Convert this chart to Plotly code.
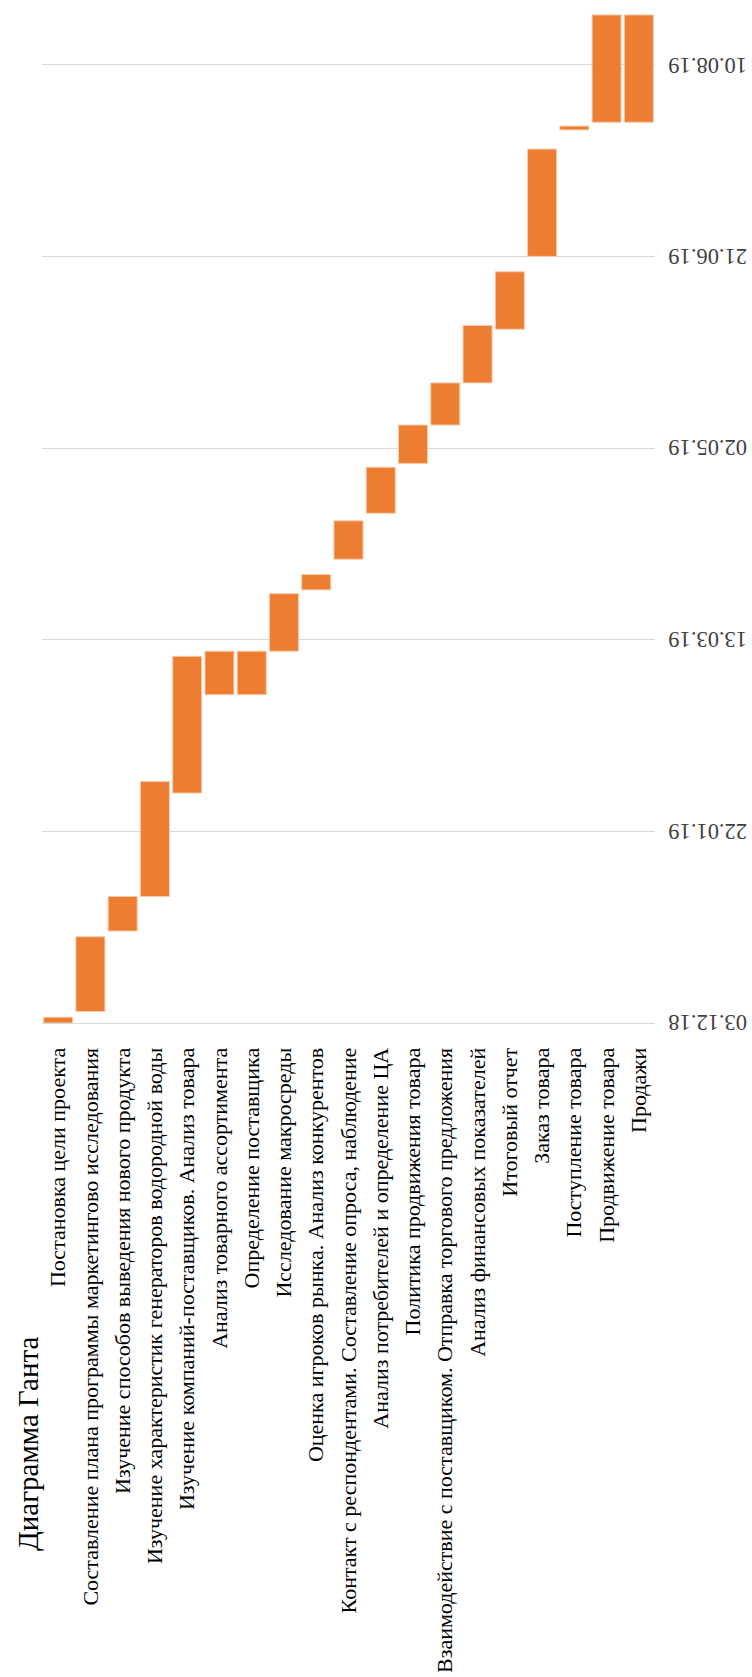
import pandas as pd
import plotly.graph_objects as go

tasks = [
    "Постановка цели проекта",
    "Составление плана программы маркетингово исследования",
    "Изучение способов выведения нового продукта",
    "Изучение характеристик генераторов водородной воды",
    "Изучение компаний-поставщиков. Анализ товара",
    "Анализ товарного ассортимента",
    "Определение поставщика",
    "Исследование макросреды",
    "Оценка игроков рынка. Анализ конкурентов",
    "Контакт с респондентами. Составление опроса, наблюдение",
    "Анализ потребителей и определение ЦА",
    "Политика продвижения товара",
    "Взаимодействие с поставщиком. Отправка торгового предложения",
    "Анализ финансовых показателей",
    "Итоговый отчет",
    "Заказ товара",
    "Поступление товара",
    "Продвижение товара",
    "Продажи",
]

start_dates = [
    "2018-12-03 00:00", "2018-12-06 00:00", "2018-12-27 00:00", "2019-01-05 00:00", "2019-02-01 00:00",
    "2019-02-26 16:00", "2019-02-26 16:00", "2019-03-10 00:00", "2019-03-26 00:00", "2019-04-03 00:00",
    "2019-04-15 00:00", "2019-04-28 00:00", "2019-05-08 00:00", "2019-05-19 00:00", "2019-06-02 00:00",
    "2019-06-21 00:00", "2019-07-24 00:00", "2019-07-26 00:00", "2019-07-26 00:00",
]
end_dates = [
    "2018-12-04 12:00", "2018-12-25 12:00", "2019-01-05 00:00", "2019-02-04 00:00", "2019-03-08 16:00",
    "2019-03-10 00:00", "2019-03-10 00:00", "2019-03-25 00:00", "2019-03-30 00:00", "2019-04-13 00:00",
    "2019-04-27 00:00", "2019-05-08 00:00", "2019-05-19 00:00", "2019-06-03 00:00", "2019-06-17 00:00",
    "2019-07-19 00:00", "2019-07-25 00:00", "2019-08-23 00:00", "2019-08-23 00:00",
]

date_ticks = ["2018-12-03", "2019-01-22", "2019-03-13", "2019-05-02", "2019-06-21", "2019-08-10"]
date_tick_labels = ["03.12.18", "22.01.19", "13.03.19", "02.05.19", "21.06.19", "10.08.19"]
date_range = ["2018-12-03 00:00", "2019-08-23 12:00"]
title_text = "Диаграмма Ганта"

starts = pd.to_datetime(pd.Series(start_dates), format="%Y-%m-%d %H:%M")
ends = pd.to_datetime(pd.Series(end_dates), format="%Y-%m-%d %H:%M")
durations_ms = ((ends - starts) / pd.Timedelta(milliseconds=1)).tolist()

fig = go.Figure(
    go.Bar(
        x=tasks,
        y=durations_ms,
        base=start_dates,
        marker=dict(color="#ED7D31", line=dict(color="#F8CBAD", width=1)),
        hoverinfo="x",
    )
)

W, H = 752, 1677
ml, mr, mt, mb = 42, 97, 13, 654
pw, ph = W - ml - mr, H - mt - mb

annotations = [
    dict(
        text=title_text,
        xref="paper",
        yref="paper",
        x=(28 - ml) / pw,
        y=(H - mb - 1444) / ph,
        xanchor="center",
        yanchor="middle",
        textangle=-90,
        showarrow=False,
        font=dict(family="Liberation Serif", size=29, color="#000000"),
    )
]
for d, lbl in zip(date_ticks, date_tick_labels):
    annotations.append(
        dict(
            text=lbl,
            xref="paper",
            yref="y",
            x=(666 - ml) / pw,
            y=d,
            xanchor="left",
            yanchor="middle",
            textangle=180,
            showarrow=False,
            font=dict(family="Liberation Serif", size=22.5, color="#404040"),
        )
    )

fig.update_layout(
    width=W,
    height=H,
    margin=dict(l=ml, r=mr, t=mt, b=mb, pad=0),
    paper_bgcolor="white",
    plot_bgcolor="white",
    bargap=0.1,
    showlegend=False,
    font=dict(family="Liberation Serif", color="#000000"),
    xaxis=dict(
        type="category",
        tickmode="array",
        tickvals=tasks,
        tickangle=-90,
        tickfont=dict(family="Liberation Serif", size=22, color="#000000"),
        ticks="",
        showgrid=False,
        showline=True,
        linecolor="#D9D9D9",
        linewidth=1,
        ticklabelstandoff=15,
        automargin=False,
    ),
    yaxis=dict(
        type="date",
        side="right",
        range=date_range,
        tickmode="array",
        tickvals=date_ticks,
        showticklabels=False,
        ticks="",
        showgrid=True,
        gridcolor="#D9D9D9",
        gridwidth=1,
        zeroline=False,
        showline=False,
        automargin=False,
    ),
    annotations=annotations,
)

fig.write_html("out.html")
